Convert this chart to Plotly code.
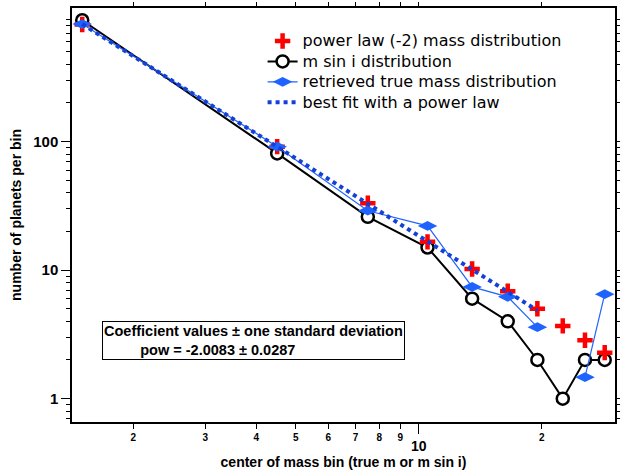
import math
import plotly.graph_objects as go

# ---- data ----
bin_centers = [1.5, 4.5, 7.5, 10.5, 13.5, 16.5, 19.5, 22.5, 25.5, 28.5]
power_law = [815, 91.4, 33.2, 16.6, 10.2, 6.85, 5.0, 3.68, 2.85, 2.28]
msini = [880, 81, 26, 15, 6, 4, 2, 1, 2, 2]
retrieved = [822, 91.4, 29.0, 22.1, 7.4, 6.2, 3.6, None, 1.47, 6.5]
fit_x = [1.5, 4.5, 7.5, 10.5, 13.5, 16.5, 19.5]
fit_y = [822, 91.5, 32.8, 16.7, 10.1, 6.85, 4.85]

x_major_ticks = [10]
x_major_text = ["10"]
x_minor_ticks = [2, 3, 4, 5, 6, 7, 8, 9, 20]
x_minor_text = ["2", "3", "4", "5", "6", "7", "8", "9", "2"]
y_major_ticks = [1, 10, 100]
y_major_text = ["1", "10", "100"]
y_minor_ticks = [0.7, 0.8, 0.9] + [m * d for d in (1, 10, 100) for m in range(2, 10)]

X_RANGE = [1.416, 30.2]
Y_RANGE = [0.658, 1096]

RED = "#FF0000"
BLUE = "#1F63FF"
DBLUE = "#1440D8"
FONT = "Liberation Sans, Arial, sans-serif"
LFONT = "DejaVu Sans, Verdana, sans-serif"


def leg(t):
    return "<span style='font-size:16px'>%s</span>" % t


xr = [math.log10(v) for v in X_RANGE]
yr = [math.log10(v) for v in Y_RANGE]

fig = go.Figure()
fig.add_trace(go.Scatter(
    x=bin_centers, y=msini, mode="lines+markers", name=leg("m sin i distribution"),
    line=dict(color="black", width=2),
    marker=dict(symbol="circle", size=12, color="white", line=dict(color="black", width=2.5)),
    legendrank=2))
fig.add_trace(go.Scatter(
    x=bin_centers, y=power_law, mode="markers", name=leg("power law (-2) mass distribution"),
    marker=dict(symbol="cross-thin", size=11, line=dict(color=RED, width=4.5)),
    legendrank=1))
fig.add_trace(go.Scatter(
    x=bin_centers, y=retrieved, mode="lines+markers", name=leg("retrieved true mass distribution"),
    line=dict(color=BLUE, width=1.2), connectgaps=False,
    marker=dict(symbol="diamond-wide", size=14, color=BLUE),
    legendrank=3))
fig.add_trace(go.Scatter(
    x=fit_x, y=fit_y, mode="lines", name=leg("best fit with a power law"),
    line=dict(color=DBLUE, width=4, dash="dot"),
    legendrank=4))
# empty traces so the tick-only overlay axes are drawn
fig.add_trace(go.Scatter(x=[], y=[], xaxis="x2", yaxis="y2", showlegend=False, hoverinfo="skip"))
fig.add_trace(go.Scatter(x=[], y=[], xaxis="x3", yaxis="y3", showlegend=False, hoverinfo="skip"))

fig.add_annotation(
    x=0.055, y=0.2434, xref="paper", yref="paper", xanchor="left", yanchor="top",
    text="<b>Coefficient values ± one standard deviation<br>"
         + "\u00a0" * 9 + "pow = -2.0083 ± 0.0287</b>",
    align="left", showarrow=False, bordercolor="black", borderwidth=1, borderpad=1,
    bgcolor="white", font=dict(size=14.5, color="black", family=FONT))

tick_common = dict(showgrid=False, zeroline=False, linecolor="black", linewidth=1.5,
                   ticks="outside", tickwidth=1.2, tickcolor="black",
                   tickmode="array", automargin=False)

fig.update_layout(
    width=620, height=474,
    margin=dict(l=72, r=5, t=8, b=52),
    paper_bgcolor="white", plot_bgcolor="white",
    font=dict(family=FONT, color="black"),
    legend=dict(x=0.351, y=0.957, xanchor="left", yanchor="top",
                bgcolor="rgba(0,0,0,0)", font=dict(size=13.4, family=LFONT),
                tracegroupgap=0, itemwidth=30),
    showlegend=True,
    xaxis=dict(
        type="log", range=xr, showline=True, mirror=True, ticklen=10,
        tickvals=x_major_ticks, ticktext=["<b>%s</b>" % t for t in x_major_text],
        tickfont=dict(size=14, family=FONT),
        title=dict(text="<b>center of mass bin (true m or m sin i)</b>",
                   font=dict(size=14, family=FONT), standoff=5),
        **tick_common,
    ),
    xaxis2=dict(
        type="log", range=xr, overlaying="x", anchor="y2", side="bottom",
        showline=False, ticklen=6,
        tickvals=x_minor_ticks, ticktext=["<b>%s</b>" % t for t in x_minor_text],
        tickfont=dict(size=10, family=FONT), **tick_common,
    ),
    xaxis3=dict(
        type="log", range=xr, overlaying="x", anchor="y3", side="top",
        showline=False, ticklen=5, tickvals=x_minor_ticks + x_major_ticks,
        showticklabels=False, **tick_common,
    ),
    yaxis=dict(
        type="log", range=yr, showline=True, mirror=True, ticklen=9,
        tickvals=y_major_ticks, ticktext=["<b>%s</b>" % t for t in y_major_text],
        tickfont=dict(size=15, family=FONT),
        title=dict(text="<b>number of planets per bin</b>", font=dict(size=14, family=FONT), standoff=8),
        **tick_common,
    ),
    yaxis2=dict(
        type="log", range=yr, overlaying="y", anchor="x2", side="left",
        showline=False, ticklen=5, tickvals=y_minor_ticks, showticklabels=False,
        **tick_common,
    ),
    yaxis3=dict(
        type="log", range=yr, overlaying="y", anchor="x3", side="right",
        showline=False, ticklen=5, tickvals=y_minor_ticks + y_major_ticks,
        showticklabels=False, **tick_common,
    ),
)

fig.write_html("out.html", post_script="document.body.style.margin='0px';",
               config={"displayModeBar": False})
